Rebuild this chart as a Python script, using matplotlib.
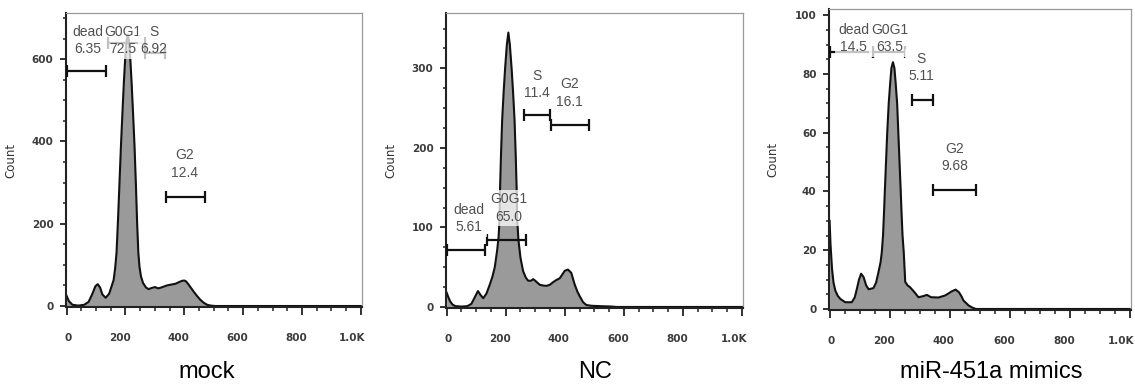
import matplotlib.pyplot as plt
from matplotlib.ticker import MultipleLocator, FuncFormatter
from matplotlib.transforms import ScaledTranslation

# cell-cycle histograms (DNA content channel vs count)
mock_x = [0, 8, 20, 40, 60, 75, 88, 98, 106, 114, 122, 133, 145, 155, 160, 165,
          170, 175, 180, 185, 190, 195, 200, 204, 208, 212, 216, 221, 226, 231, 236,
          240, 244, 248, 253, 260, 270, 279, 290, 301, 310, 318, 330, 341, 355, 370,
          382, 392, 400, 406, 414, 422, 432, 444, 455, 466, 478, 490, 505, 1000]
mock_count = [25, 12, 3, 1, 3, 10, 30, 48, 53, 45, 28, 20, 30, 52, 63, 90,
              130, 210, 300, 390, 470, 545, 610, 645, 660, 645, 610, 545, 470, 390, 290,
              200, 130, 95, 72, 56, 45, 41, 44, 46, 43, 44, 47, 50, 52, 54,
              58, 61, 62, 60, 53, 45, 35, 24, 15, 8, 3, 1, 0, 0]

nc_x = [0, 6, 12, 20, 30, 50, 70, 84, 95, 106, 115, 124, 135, 146, 155, 163, 171,
        176, 179, 181, 184, 188, 193, 198, 204, 209, 214, 220, 225, 230, 234, 237,
        239, 243, 250, 259, 268, 276, 286, 293, 300, 315, 326, 338, 350, 360, 372,
        383, 392, 400, 411, 422, 433, 442, 450, 462, 473, 490, 520, 560, 575, 1000]
nc_count = [18, 12, 7, 3, 1, 0.5, 1, 4, 12, 20, 15, 11, 17, 28, 38, 50, 71,
            88, 110, 150, 190, 235, 270, 300, 330, 345, 330, 300, 270, 235, 190, 150,
            110, 85, 62, 45, 37, 33, 33, 35, 33, 28, 27, 26.5, 28, 31, 34,
            36, 41, 45.5, 47, 43, 29, 20, 14, 6, 2.5, 1.5, 1, 0.5, 0, 0]

mim_x = [0, 3, 8, 13, 19, 27, 36, 52, 74, 84, 91, 98, 105, 113, 122, 130, 146, 155,
         163, 170, 174, 178, 181, 184, 188, 192, 197, 202, 206, 211, 216, 220, 225,
         229, 233, 237, 240, 243, 247, 252, 260, 268, 283, 296, 305, 313, 324, 338,
         363, 385, 398, 407, 420, 431, 440, 446, 455, 463, 475, 487, 1000]
mim_count = [30, 22, 13.7, 9, 6.3, 4.5, 3.4, 2.3, 2.3, 4, 6.9, 10, 12, 10.9, 8, 6.7, 7.1, 9,
             12.6, 16, 19.4, 25, 32, 40, 50, 60, 70, 77, 82, 84, 82, 77, 70,
             60, 50, 40, 32, 25, 19.4, 9.2, 8, 7.4, 5.7, 4, 4.2, 4.4, 4.8, 4,
             3.9, 4.6, 5.4, 6, 6.6, 5.7, 4.2, 2.9, 2, 1.2, 0.5, 0, 0]

# gates: (start, end, height) in data units
mock_gates = [(0, 134, 571), (141, 268, 640), (268, 336, 615), (338, 469, 265)]
nc_gates = [(0, 130, 71.6), (135, 268, 84.6), (262, 351, 241), (355, 482, 229)]
mim_gates = [(0, 144, 87.4), (146, 252, 87.4), (274, 343, 71.2), (346, 488, 40.4)]

# gate labels: (text, x, y)
mock_labels = [('dead\n6.35', 73, 646), ('G0G1\n72.5', 192, 646),
               ('S\n6.92', 298, 646), ('G2\n12.4', 402, 345)]
nc_labels = [('dead\n5.61', 76, 111), ('G0G1\n65.0', 210, 124.5),
             ('S\n11.4', 306, 280), ('G2\n16.1', 417, 269)]
mim_labels = [('dead\n14.5', 80, 92.1), ('G0G1\n63.5', 202, 92.1),
              ('S\n5.11', 304, 82.3), ('G2\n9.68', 416, 51.6)]

titles = ['mock', 'NC', 'miR-451a mimics']


def kfmt(v, pos):
    return '1.0K' if v >= 1000 else '%d' % v


def draw_panel(ax, x, counts, ylim, ymaj, ymin, gates, labels):
    ax.fill_between(x, counts, 0, color='#9a9a9a', lw=0, zorder=1)
    ax.plot(x, counts, color='#111111', lw=1.5, zorder=2)
    for x0, x1, y in gates:
        ax.plot([x0, x1], [y, y], color='#111111', lw=1.6, zorder=3,
                solid_capstyle='butt')
        ax.plot([x0, x1], [y, y], ls='none', marker='|', ms=8, mew=1.6,
                color='#111111', zorder=3)
    for txt, lx, ly in labels:
        ax.text(lx, ly, txt, ha='center', va='center', multialignment='center',
                fontsize=10, family='Liberation Sans', color='#505050',
                linespacing=1.3, zorder=5,
                bbox=dict(boxstyle='square,pad=0.2', fc='white', ec='none', alpha=0.75))
    ax.set_xlim(-2, 1004)
    ax.set_ylim(*ylim)
    ax.xaxis.set_major_locator(MultipleLocator(200))
    ax.xaxis.set_minor_locator(MultipleLocator(50))
    ax.xaxis.set_major_formatter(FuncFormatter(kfmt))
    ax.yaxis.set_major_locator(MultipleLocator(ymaj))
    ax.yaxis.set_minor_locator(MultipleLocator(ymin))
    ax.tick_params(axis='x', which='major', length=6, width=1.3, pad=13,
                   labelsize=7.5, labelcolor='#3c3c3c', color='#222222')
    ax.tick_params(axis='x', which='minor', length=3, width=1.1, color='#222222')
    ax.tick_params(axis='y', which='major', length=4.5, width=1.3, pad=4.5,
                   labelsize=7.5, labelcolor='#3c3c3c', color='#222222')
    ax.tick_params(axis='y', which='minor', length=2.5, width=1.1, color='#222222')
    for lab in ax.get_yticklabels():
        lab.set_fontweight('bold')
    # FlowJo sets its axis numbers slightly right-aligned under the ticks
    xlabs = ax.get_xticklabels()
    for i, lab in enumerate(xlabs):
        lab.set_fontweight('bold')
        lab.set_ha('right')
        dx = 1 if i == len(xlabs) - 1 else 5
        lab.set_transform(lab.get_transform() +
                          ScaledTranslation(dx / 100, 0, ax.figure.dpi_scale_trans))
    for s in ['left', 'bottom']:
        ax.spines[s].set_color('#222222')
        ax.spines[s].set_linewidth(1.5)
    for s in ['top', 'right']:
        ax.spines[s].set_color('#999999')
        ax.spines[s].set_linewidth(0.9)
    ax.set_ylabel('Count', fontsize=8.5, color='#333333')
    ax.yaxis.set_label_coords(-0.165, 0.5)


fig = plt.figure(figsize=(11.35, 3.85), dpi=100)
ax1 = fig.add_axes([0.0581, 0.2026, 0.2608, 0.7636])
ax2 = fig.add_axes([0.3930, 0.2000, 0.2617, 0.7670])
ax3 = fig.add_axes([0.7304, 0.1948, 0.2660, 0.7810])

draw_panel(ax1, mock_x, mock_count, (-2.4, 712), 200, 50, mock_gates, mock_labels)
draw_panel(ax2, nc_x, nc_count, (-1.3, 370), 100, 25, nc_gates, nc_labels)
draw_panel(ax3, mim_x, mim_count, (-0.35, 102), 20, 5, mim_gates, mim_labels)

for ax, t, cx in zip([ax1, ax2, ax3], titles, [207, 595, 991]):
    fig.text(cx / 1135, 1 - 372 / 385, t, ha='center', va='center',
             fontsize=17, family='Liberation Sans', color='black')

fig.savefig('out.png', dpi=100)
plt.close()
